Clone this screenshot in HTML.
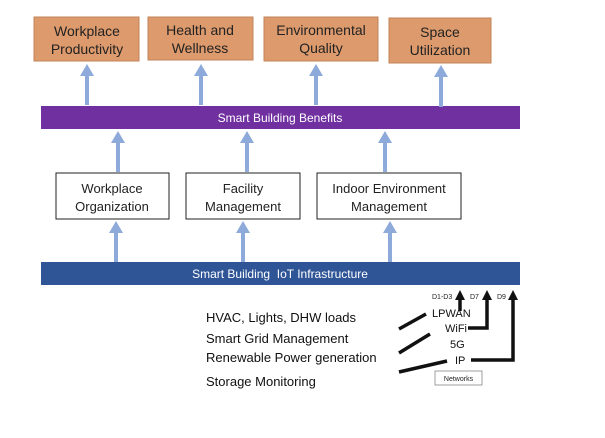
<!DOCTYPE html>
<html><head><style>
body{margin:0;background:#fff;}
svg text{font-family:"Liberation Sans",sans-serif;}
</style></head><body>
<svg width="605" height="433" viewBox="0 0 605 433" xmlns="http://www.w3.org/2000/svg">
<defs>
<marker id="ba" markerWidth="4" markerHeight="4" refX="2" refY="3" orient="auto" markerUnits="strokeWidth"><path d="M0,0 L4,0 L2,0 Z"/></marker>
</defs>
<g fill="#dd9a6c" stroke="#c4835a" stroke-width="1">
<rect x="34" y="17" width="105" height="44"/>
<rect x="148" y="17" width="105" height="43"/>
<rect x="264" y="17" width="114" height="44"/>
<rect x="389" y="18" width="102" height="45"/>
</g>
<g font-size="14" fill="#222" text-anchor="middle">
<text x="87" y="36">Workplace</text><text x="87" y="54">Productivity</text>
<text x="200" y="35">Health and</text><text x="200" y="53">Wellness</text>
<text x="321" y="35">Environmental</text><text x="321" y="53">Quality</text>
<text x="440" y="37">Space</text><text x="440" y="55">Utilization</text>
</g>
<rect x="41" y="106" width="479" height="23" fill="#7030a0"/>
<text x="280" y="122" font-size="12" fill="#fff" text-anchor="middle">Smart Building Benefits</text>
<g fill="#8eaadb">
<!-- top arrows -->
<path d="M85,105 V76 H80 L87,64 L94,76 H89 V105 Z"/>
<path d="M199,105 V76 H194 L201,64 L208,76 H203 V105 Z"/>
<path d="M314,105 V76 H309 L316,64 L323,76 H318 V105 Z"/>
<path d="M439,107 V77 H434 L441,65 L448,77 H443 V107 Z"/>
<!-- middle arrows -->
<path d="M116,172 V143 H111 L118,131 L125,143 H120 V172 Z"/>
<path d="M245,172 V143 H240 L247,131 L254,143 H249 V172 Z"/>
<path d="M383,172 V143 H378 L385,131 L392,143 H387 V172 Z"/>
<!-- lower arrows -->
<path d="M114,262 V233 H109 L116,221 L123,233 H118 V262 Z"/>
<path d="M241,262 V233 H236 L243,221 L250,233 H245 V262 Z"/>
<path d="M388,262 V233 H383 L390,221 L397,233 H392 V262 Z"/>
</g>
<g fill="#fff" stroke="#222" stroke-width="1">
<rect x="56" y="173" width="113" height="46"/>
<rect x="186" y="173" width="114" height="46"/>
<rect x="317" y="173" width="144" height="46"/>
</g>
<g font-size="13" fill="#222" text-anchor="middle">
<text x="112" y="193">Workplace</text><text x="112" y="211">Organization</text>
<text x="243" y="193">Facility</text><text x="243" y="211">Management</text>
<text x="389" y="193">Indoor Environment</text><text x="389" y="211">Management</text>
</g>
<rect x="41" y="262" width="479" height="23" fill="#2f5597"/>
<text x="280" y="278" font-size="12" fill="#fff" text-anchor="middle">Smart Building&#160; IoT Infrastructure</text>
<g font-size="13" fill="#111">
<text x="206" y="322">HVAC, Lights, DHW loads</text>
<text x="206" y="343">Smart Grid Management</text>
<text x="206" y="362">Renewable Power generation</text>
<text x="206" y="386">Storage Monitoring</text>
</g>
<g stroke="#111" stroke-width="3.5" fill="none">
<line x1="399" y1="329" x2="426" y2="314"/>
<line x1="399" y1="353" x2="430" y2="334"/>
<line x1="399" y1="372" x2="447" y2="361"/>
<line x1="460" y1="311" x2="460" y2="298"/>
<polyline points="468,328 487,328 487,298"/>
<polyline points="471,360 513,360 513,298"/>
</g>
<g fill="#111">
<path d="M455,300 L460,290 L465,300 Z"/>
<path d="M482,300 L487,290 L492,300 Z"/>
<path d="M508,300 L513,290 L518,300 Z"/>
</g>
<g font-size="7" fill="#222">
<text x="432" y="299">D1-D3</text>
<text x="470" y="299">D7</text>
<text x="497" y="299">D9</text>
</g>
<g font-size="11" fill="#111">
<text x="432" y="317">LPWAN</text>
<text x="445" y="332">WiFi</text>
<text x="450" y="348">5G</text>
<text x="455" y="364">IP</text>
</g>
<rect x="435" y="371" width="47" height="14" fill="#fff" stroke="#888" stroke-width="0.8"/>
<text x="458.5" y="381" font-size="7" fill="#222" text-anchor="middle">Networks</text>
</svg>
</body></html>
